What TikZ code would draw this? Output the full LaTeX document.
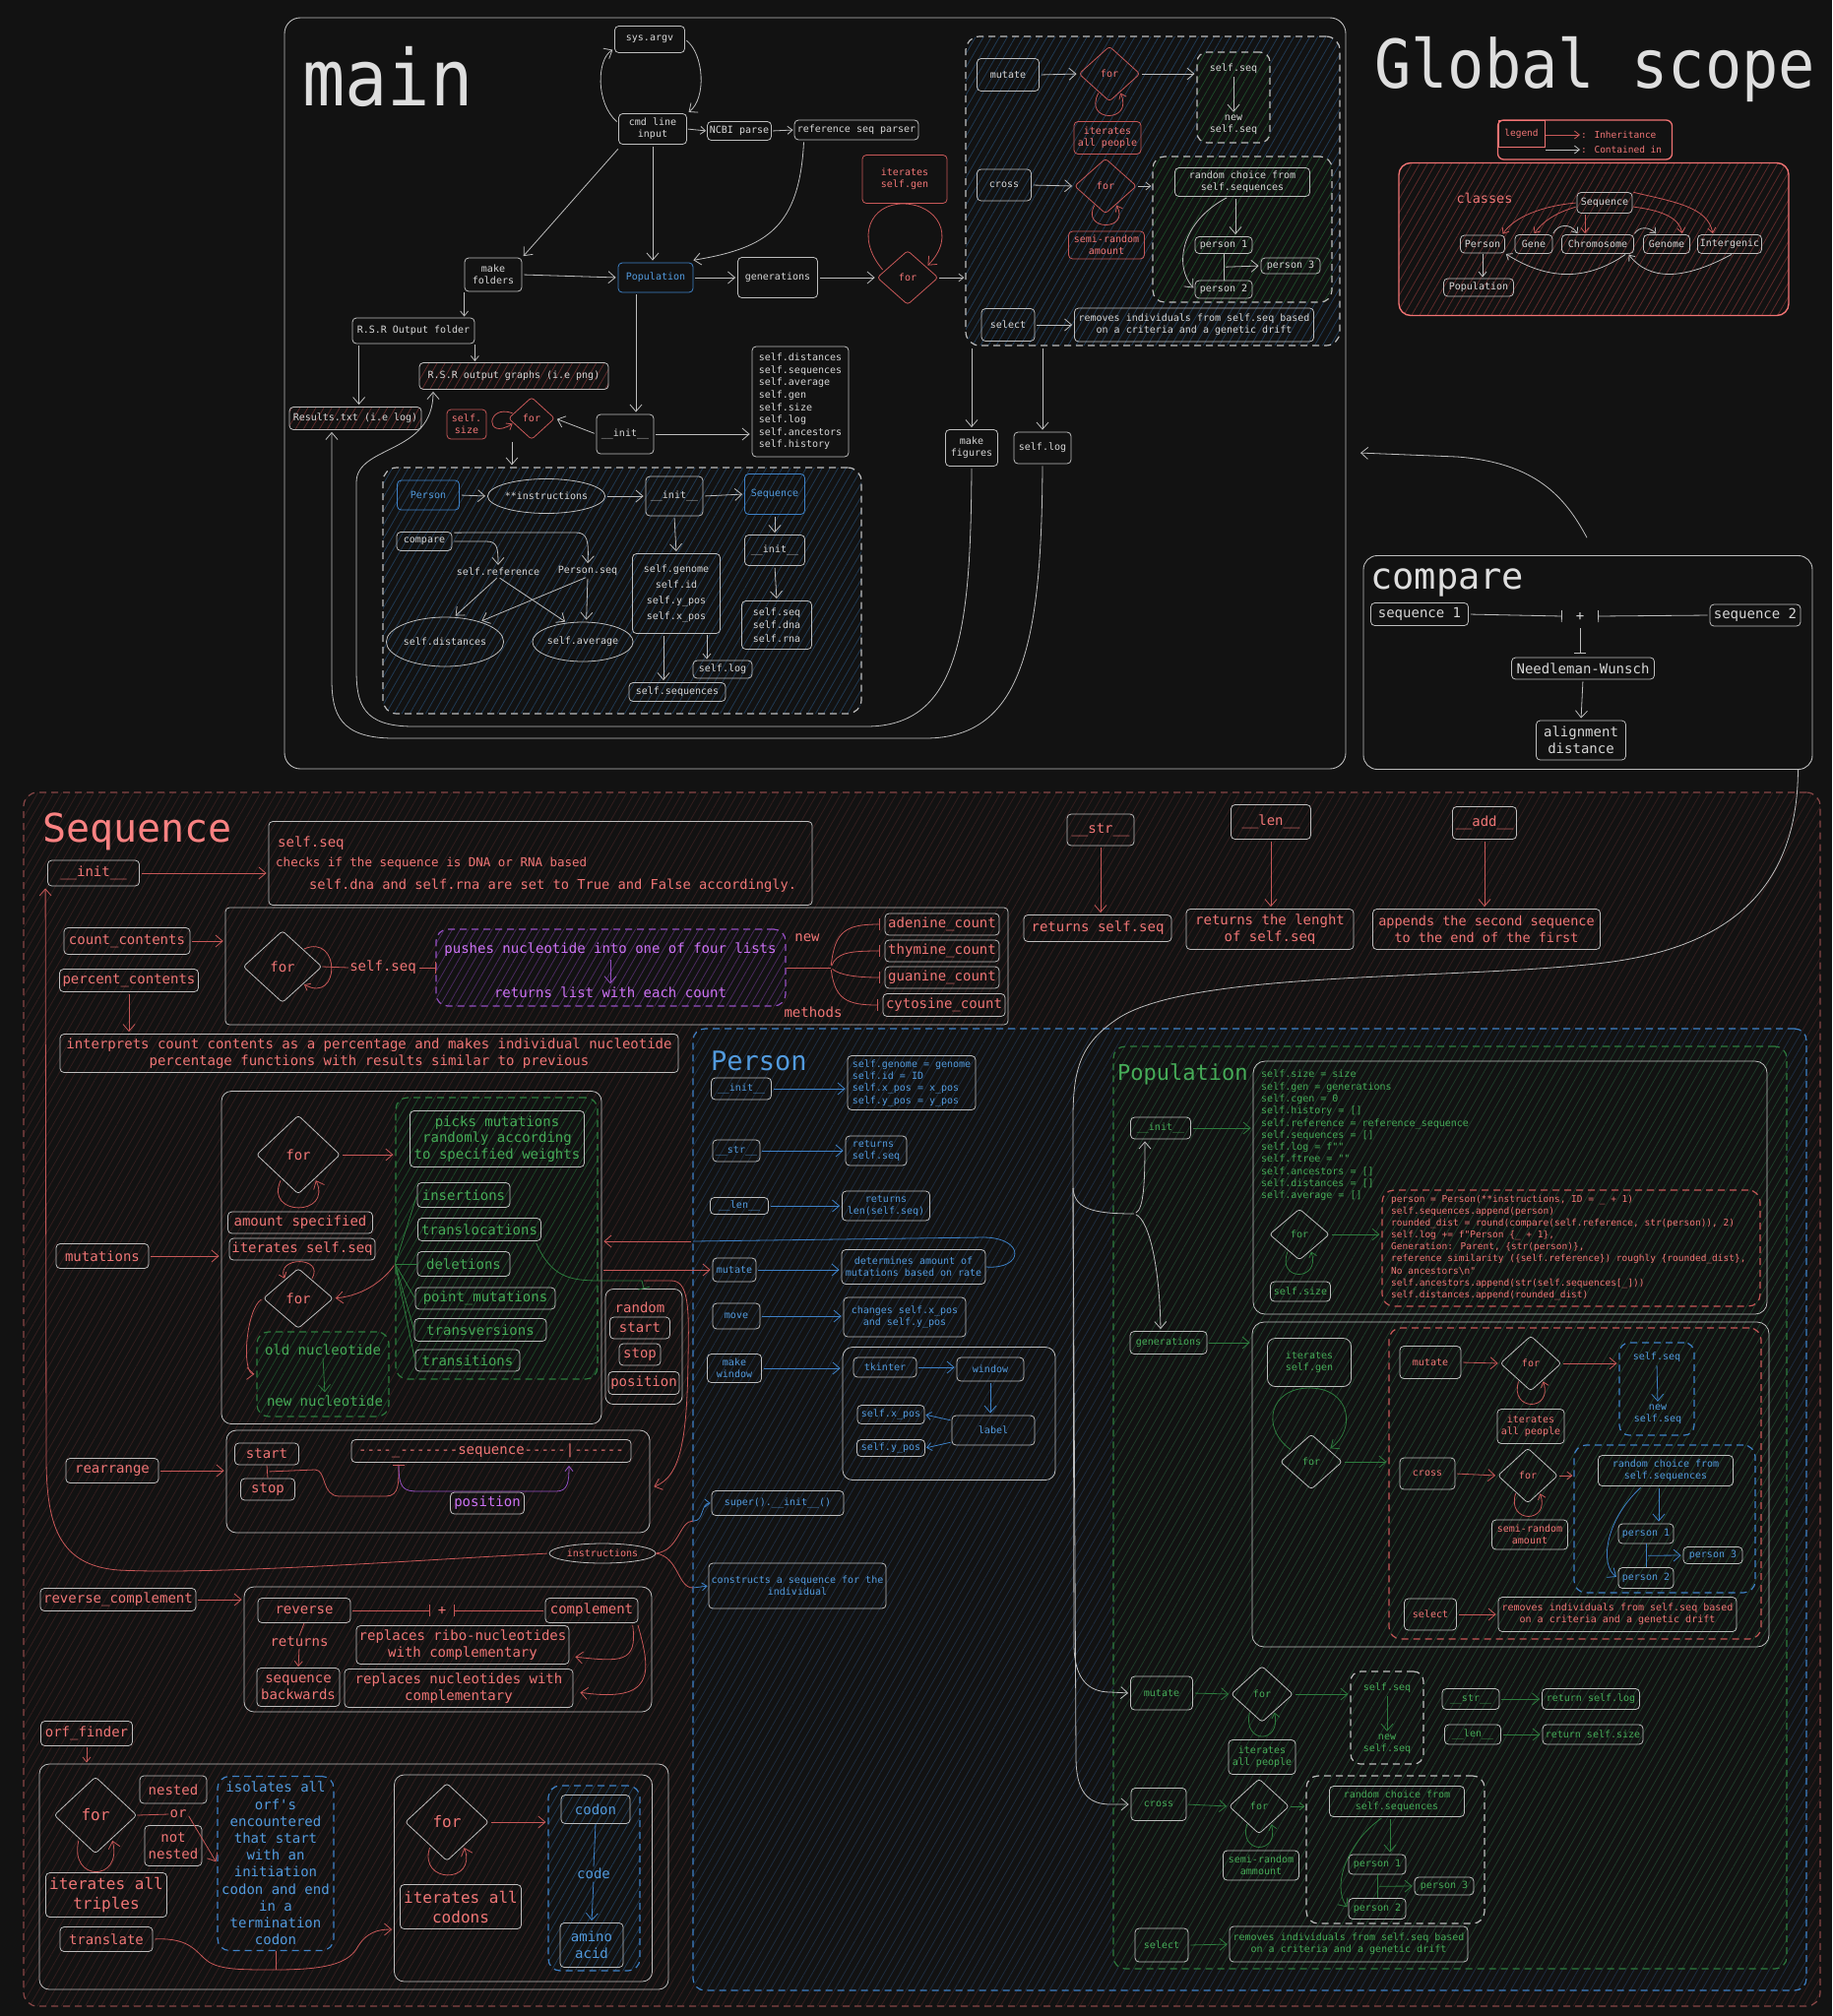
\documentclass[tikz,border=0pt]{standalone}
\usepackage{fontspec}
\setmainfont[Ligatures=TeXOff]{DejaVu Sans Mono}
\usetikzlibrary{shapes.geometric,arrows.meta,patterns.meta,calc}
\definecolor{cBg}{RGB}{18,18,18}
\definecolor{cW}{RGB}{190,190,190}
\definecolor{cWt}{RGB}{215,215,215}
\definecolor{cTi}{RGB}{222,222,222}
\definecolor{cR}{RGB}{200,88,88}
\definecolor{cRt}{RGB}{240,118,118}
\definecolor{cSal}{RGB}{250,130,130}
\definecolor{cLeg}{RGB}{240,115,115}
\definecolor{cB}{RGB}{62,130,200}
\definecolor{cBt}{RGB}{82,155,222}
\definecolor{cG}{RGB}{45,125,62}
\definecolor{cGt}{RGB}{70,172,88}
\definecolor{cP}{RGB}{150,80,195}
\definecolor{cPt}{RGB}{205,115,245}
\definecolor{cRd}{RGB}{135,70,70}
\definecolor{hB}{RGB}{32,58,84}
\definecolor{hG}{RGB}{28,72,40}
\definecolor{hR}{RGB}{52,30,30}
\definecolor{hRc}{RGB}{95,42,42}
\definecolor{hP}{RGB}{75,42,95}
\definecolor{hPer}{RGB}{30,46,66}
\definecolor{hPop}{RGB}{30,62,42}
\tikzset{
  wh/.style 2 args={minimum width=#1,minimum height=#2},
  t9/.style={font=\fontsize{9.5}{12.1}\selectfont},
  t10/.style={font=\fontsize{10}{12.3}\selectfont},
  t13/.style={font=\fontsize{13.5}{16.5}\selectfont},
  t14/.style={font=\fontsize{14}{16.8}\selectfont},
  t16/.style={font=\fontsize{16}{20}\selectfont},
  tW/.style={text=cWt}, tR/.style={text=cRt}, tB/.style={text=cBt}, tG/.style={text=cGt}, tP/.style={text=cPt},
  wbox/.style={draw=cW, line width=0.8pt, rounded corners=4pt, align=center, inner sep=1pt, text=cWt},
  rbox/.style={wbox, draw=cR, text=cRt},
  bbox/.style={wbox, draw=cB, text=cBt},
  dia/.style={draw=cW, diamond, line width=0.8pt, inner sep=0pt, rounded corners=3pt, text=cWt},
  rdia/.style={dia, draw=cR, text=cRt},
  ell/.style={draw=cW, ellipse, line width=0.8pt, inner sep=0pt, text=cWt},
  lbl/.style={inner sep=1pt, align=center},
  reg/.style={line width=1.2pt, dash pattern=on 7pt off 5pt, rounded corners=12pt},
  hatch/.style={pattern={Lines[angle=60,distance=7pt,line width=0.8pt]}, pattern color=#1},
  lw/.style={draw=cW, line width=0.8pt},
  lr/.style={draw=cR, line width=0.8pt},
  lb/.style={draw=cB, line width=0.8pt},
  lg/.style={draw=cG, line width=0.8pt},
  lp/.style={draw=cP, line width=0.8pt},
  ar/.style={-{Straight Barb[length=7pt,width=12pt]}, shorten >=2pt, shorten <=2pt},
  ars/.style={-{Straight Barb[length=5pt,width=8pt]}, shorten >=1pt, shorten <=1pt},
  br/.style={-{Bar[width=12pt]}, shorten <=2pt},
}
\begin{document}
\begin{tikzpicture}[x=1pt,y=-1pt]
\useasboundingbox (0,0) rectangle (1861,2048);
\fill[cBg] (0,0) rectangle (1861,2048);

%% ================= MAIN =================
\node[draw=cW, line width=0.9pt, rounded corners=16pt, wh={1078}{763}] (mainb) at (828,399.5) {};
\node[anchor=base west, inner sep=0pt, text=cTi, font=\fontsize{72}{72}\selectfont] (maint) at (307,107) {\scalebox{1}[1.1]{main}};

\node[wbox,t10,wh={71}{27}] (argv) at (660,40) {sys.argv};
\node[wbox,t10,wh={69}{31}] (cmd) at (663,131) {cmd line\\input};
\node[wbox,t10,wh={65}{19}] (ncbi) at (751,133) {NCBI parse};
\node[wbox,t10,wh={126}{20}] (refp) at (870,132) {reference seq parser};
\node[rbox,t10,wh={86}{49}] (itgen) at (919,182) {iterates\\self.gen};
\node[wbox,t10,wh={58}{34}] (mkf) at (501,279) {make\\folders};
\node[bbox,t10,wh={76}{30}] (popm) at (666,282) {Population};
\node[wbox,t10,wh={81}{41}] (gens) at (790,282) {generations};
\node[rdia,t10,wh={62}{55}] (form) at (922,282) {for};
\node[wbox,t10,wh={124}{26}] (rsrf) at (420,336) {R.S.R Output folder};
\node[wbox,t10,wh={192}{27},hatch=hRc] (rsrg) at (522,382) {R.S.R output graphs (i.e png)};
\node[wbox,t10,wh={134}{23},hatch=hRc] (res) at (361,425) {Results.txt (i.e log)};
\node[rbox,t10,wh={40}{30}] (ssize) at (474,431) {self.\\size};
\node[rdia,t10,wh={47}{43}] (fors) at (540,425) {for};
\node[wbox,t10,wh={58}{40}] (initm) at (635,441) {\_\_init\_\_};
\node[wbox,font=\fontsize{10}{12.6}\selectfont,wh={98}{112},align=left] (slist) at (813,408) {self.distances\\self.sequences\\self.average\\self.gen\\self.size\\self.log\\self.ancestors\\self.history};
\node[wbox,t10,wh={53}{37}] (mkfig) at (987,455) {make\\figures};
\node[wbox,t10,wh={58}{32}] (slog) at (1059,455) {self.log};

% mutate / cross / select area
\node[reg, draw=cW, hatch=hB, wh={380}{314}, rounded corners=14pt] (mbox) at (1171,194) {};
\node[wbox,t10,wh={63}{33}] (mmut) at (1024,76) {mutate};
\node[rdia,t10,wh={62}{56}] (mfor1) at (1127,75) {for};
\node[rbox,t10,wh={68}{33}] (mip) at (1125,140) {iterates\\all people};
\node[reg, draw=cW, preaction={fill=cBg}, hatch=hG, wh={74}{92}, rounded corners=10pt] (mseq) at (1253,99) {};
\node[lbl,tW,t10] (mseq1) at (1253,70) {self.seq};
\node[lbl,tW,t10] (mseq2) at (1253,127) {new\\self.seq};
\node[wbox,t10,wh={55}{32}] (mcross) at (1020,188) {cross};
\node[rdia,t10,wh={63}{56}] (mfor2) at (1123,189) {for};
\node[rbox,t10,wh={77}{28}] (msemi) at (1124,249) {semi-random\\amount};
\node[reg, draw=cW, preaction={fill=cBg}, hatch=hG, wh={182}{148}] (mrc) at (1262,233) {};
\node[wbox,t10,wh={137}{29}] (mrand) at (1262,185) {random choice from\\self.sequences};
\node[wbox,t10,wh={58}{17}] (mp1) at (1243,249) {person 1};
\node[wbox,t10,wh={60}{16}] (mp3) at (1311,270) {person 3};
\node[wbox,t10,wh={58}{18}] (mp2) at (1243,294) {person 2};
\node[wbox,t10,wh={54}{33}] (msel) at (1024,330) {select};
\node[wbox,t10,wh={243}{34}] (mrem) at (1213,330) {removes individuals from self.seq based\\on a criteria and a genetic drift};

% person box inside main
\node[reg, draw=cW, hatch=hB, wh={486}{250}, rounded corners=14pt] (pbox) at (632,600) {};
\node[bbox,t10,wh={63}{30}] (pperson) at (435,503) {Person};
\node[ell,t10,wh={100}{35}] (pinstr) at (555,504) {**instructions};
\node[wbox,t10,wh={58}{40}] (pinit1) at (685,504) {\_\_init\_\_};
\node[bbox,t10,wh={61}{41}] (pseq) at (787,502) {Sequence};
\node[wbox,t10,wh={56}{19}] (pcomp) at (431,550) {compare};
\node[lbl,tW,t10] (pref) at (506,581) {self.reference};
\node[lbl,tW,t10] (pps) at (597,580) {Person.seq};
\node[ell,t10,wh={117}{50}] (pdist) at (452,652) {self.distances};
\node[ell,t10,wh={92}{40}] (pavg) at (592,652) {self.average};
\node[wbox,font=\fontsize{10}{16}\selectfont,wh={89}{81}] (pgen) at (687,603) {self.genome\\self.id\\self.y\_pos\\self.x\_pos};
\node[wbox,t10,wh={61}{31}] (pinit2) at (787,559) {\_\_init\_\_};
\node[wbox,font=\fontsize{10}{13.5}\selectfont,wh={71}{49}] (psdr) at (789,635) {self.seq\\self.dna\\self.rna};
\node[wbox,t10,wh={60}{18}] (plog) at (734,680) {self.log};
\node[wbox,t10,wh={98}{19}] (pss) at (688,703) {self.sequences};

% main connectors
\draw[lw,ar] (cmd.170) .. controls (605,105) and (606,60) .. (argv.195);
\draw[lw,ar] (argv.east) .. controls (715,55) and (718,100) .. (cmd.north east);
\draw[lw,ars] (cmd.east) -- (ncbi.west);
\draw[lw,ars] (ncbi.east) -- (refp.west);
\draw[lw,ar] ([shift={(10,0)}]refp.south west) .. controls (812,230) and (780,252) .. ([shift={(-2,-2)}]popm.north east);
\draw[lw,ar] ([shift={(1,3)}]cmd.south west) -- (mkf.north east);
\draw[lw,ar] (cmd.south) -- (cmd.south |- popm.north);
\draw[lw,ar] (mkf.east) -- (popm.west);
\draw[lw,ar] (popm.east) -- (gens.west);
\draw[lw,ar] (gens.east) -- (form.west);
\draw[lw,ars] (form.east) -- (form.east -| mbox.west);
\draw[lr,ar] (form.165) .. controls (868,240) and (885,207) .. (917,207) .. controls (952,207) and (972,240) .. (form.30);
\draw[lw,ars] (mkf.south west) -- (mkf.south west |- rsrf.north);
\coordinate (crs1) at ([shift={(7,0)}]rsrf.south west);
\draw[lw,ar] (crs1) -- (crs1 |- res.north);
\draw[lw,ars] (rsrf.south east) -- (rsrf.south east |- rsrg.north);
\coordinate (cpi) at ([shift={(-20,0)}]popm.south);
\draw[lw,ar] (cpi) -- (cpi |- initm.north);
\draw[lw,ar] (initm.west) -- (fors.east);
\draw[lw,ar] (initm.east) -- (initm.east -| slist.west);
\draw[lr,ars] (fors.165) .. controls (494,410) and (492,448) .. (fors.195);
\coordinate (cfp) at ([shift={(-20,0)}]fors.south);
\draw[lw,ar] (cfp) -- (cfp |- pbox.north);
\draw[lw,ar] (mbox.south -| mkfig.north) -- (mkfig.north);
\draw[lw,ar] (mbox.south -| slog.north) -- (slog.north);
\draw[lw,ar] (mkfig.south) .. controls (986,640) and (975,738) .. (880,738) -- (420,738) .. controls (368,738) and (362,715) .. (362,680) -- (362,490) .. controls (362,452) and (440,462) .. ([shift={(-82,0)}]rsrg.south);
\draw[lw,ar] (slog.south) .. controls (1058,650) and (1040,750) .. (940,750) -- (400,750) .. controls (345,750) and (337,725) .. (337,690) -- ([shift={(-24,0)}]res.south);
% mbox connectors
\draw[lw,ar] (mmut.east) -- (mfor1.west);
\draw[lw,ar] (mfor1.east) -- (mfor1.east -| mseq.west);
\draw[lr,ars] (mfor1.240) .. controls (1100,125) and (1152,125) .. (mfor1.300);
\draw[lw,ar] (mseq1.south) -- (mseq2.north);
\draw[lw,ar] (mcross.east) -- (mfor2.west);
\draw[lw,ars] (mfor2.east) -- (mfor2.east -| mrc.west);
\draw[lr,ars] (mfor2.240) .. controls (1098,235) and (1148,235) .. (mfor2.300);
\coordinate (cmr) at ([shift={(-7,0)}]mrand.south);
\draw[lw,ar] (cmr) -- (cmr |- mp1.north);
\draw[lw,ar] ([shift={(-14,0)}]mrand.south) .. controls (1200,225) and (1192,270) .. (mp2.west);
\draw[lw] (mp1.south) -- (mp2.north);
\draw[lw,ar] ($(mp1.south)!0.5!(mp2.north)$) -- (mp3.west);
\draw[lw,ar] (msel.east) -- (mrem.west);
% person box connectors
\draw[lw,ar] (pperson.east) -- (pinstr.west);
\draw[lw,ar] (pinstr.east) -- (pinit1.west);
\draw[lw,ar] (pinit1.east) -- (pseq.west);
\draw[lw,ar] (pcomp.east) -- (494,550) .. controls (505,550) and (506,556) .. (pref.north);
\draw[lw,ar] ([shift={(0,1)}]pcomp.north east) -- (585,541) .. controls (597,541) and (598,550) .. (pps.north);
\draw[lw,ar] (pref.south) -- (pdist.70);
\draw[lw,ar] (pref.south) -- (pavg.130);
\draw[lw,ar] (pps.south) -- (pdist.30);
\draw[lw,ar] (pps.south) -- (pavg.80);
\draw[lw,ar] (pinit1.south) -- (pgen.north);
\coordinate (cpg) at ([shift={(-13,0)}]pgen.south);
\draw[lw,ar] (cpg) -- (cpg |- pss.north);
\coordinate (cpl) at ([shift={(31,0)}]pgen.south);
\draw[lw,ars] (cpl) -- (cpl |- plog.north);
\draw[lw,ar] (pseq.south) -- (pinit2.north);
\draw[lw,ar] (pinit2.south) -- (psdr.north);

%% ================= GLOBAL SCOPE =================
\node[anchor=base west, inner sep=0pt, text=cTi, font=\fontsize{62}{62}\selectfont] (gst) at (1396,89) {\scalebox{1}[1.1]{Global scope}};
\node[draw=cLeg, line width=1.3pt, rounded corners=6pt, wh={177}{40}] (legb) at (1610,142) {};
\node[draw=cLeg, line width=0.8pt, tR, t9, wh={47}{27}, inner sep=0pt] (legl) at (1545.5,135.5) {legend};
\node[anchor=west, tR, t9, inner sep=0pt] (legi) at (1606,137) {: Inheritance};
\node[anchor=west, tR, t9, inner sep=0pt] (legc) at (1606,152) {: Contained in};
\draw[lr,ars] (legl.east |- legi.west) -- (legi.west);
\draw[lw,ars] (legl.east |- legc.west) -- (legc.west);

\node[draw=cLeg, line width=1.4pt, rounded corners=12pt, hatch=hRc, wh={396}{155}] (clsb) at (1619,243) {};
\node[lbl, tR, t13] (clt) at (1508,201) {classes};
\node[wbox,t10,wh={56}{21}] (cseq) at (1630,206) {Sequence};
\node[wbox,t10,wh={45}{18}] (cper) at (1506,248) {Person};
\node[wbox,t10,wh={38}{19}] (cgene) at (1558,248) {Gene};
\node[wbox,t10,wh={73}{19}] (cchr) at (1623,248) {Chromosome};
\node[wbox,t10,wh={47}{19}] (cgnm) at (1693,248) {Genome};
\node[wbox,t10,wh={65}{19}] (cint) at (1757,248) {Intergenic};
\node[wbox,t10,wh={71}{18}] (cpop) at (1502,292) {Population};
\draw[lr,ars] (cseq.west) .. controls (1568,209) and (1538,220) .. ([shift={(20,0)}]cper.north);
\draw[lr,ars] ([shift={(0,4)}]cseq.west) .. controls (1580,216) and (1566,226) .. (cgene.north);
\draw[lr,ars] ([shift={(-20,0)}]cseq.south) -- ([shift={(-13,0)}]cchr.north);
\draw[lr,ars] ([shift={(0,4)}]cseq.east) .. controls (1690,214) and (1706,222) .. ([shift={(16,0)}]cgnm.north);
\draw[lr,ars] (cseq.north east) .. controls (1700,205) and (1735,210) .. ([shift={(-17,0)}]cint.north);
\draw[lw,ars] (cgene.north east) .. controls (1582,228) and (1595,226) .. ([shift={(-20,0)}]cchr.north);
\draw[lw,ars] (cchr.north east) .. controls (1665,230) and (1675,230) .. ([shift={(-10,0)}]cgnm.north);
\draw[lw,ars] (cper.south) -- (cper.south |- cpop.north);
\draw[lw,ars] ([shift={(-8,0)}]cchr.south east) .. controls (1620,280) and (1580,290) .. (cper.south east);
\draw[lw,ars] ([shift={(-30,0)}]cint.south east) .. controls (1710,285) and (1675,285) .. ([shift={(-6,0)}]cchr.south east);

%% ================= COMPARE =================
\node[draw=cW, line width=0.9pt, rounded corners=14pt, wh={456}{217}] (compb) at (1613,673) {};
\node[anchor=base west, inner sep=0pt, text=cTi, font=\fontsize{37}{37}\selectfont] (compt) at (1392,598) {compare};
\node[wbox,t14,wh={99}{23}] (seq1) at (1442,624) {sequence 1};
\node[lbl,tW,t14,wh={36}{20}] (cplus) at (1605,626) {+};
\node[wbox,t14,wh={92}{22}] (seq2) at (1783,625) {sequence 2};
\node[wbox,t14,wh={145}{22}] (nw) at (1608,679) {Needleman-Wunsch};
\node[wbox,t14,wh={91}{40}] (ad) at (1606,752) {alignment\\distance};
\draw[lw,br] (seq1.east) -- (cplus.west);
\draw[lw,br] (seq2.west) -- (cplus.east);
\draw[lw,br,shorten >=4pt] (cplus.south) -- (cplus.south |- nw.north);
\draw[lw,ar] (nw.south) -- (ad.north);
\coordinate (cgs) at (1380,460);
\draw[lw,ar] ([shift={(0,-16)}]compb.north) .. controls (1590,505) and (1560,470) .. (1480,464) -- (cgs);

%% ================= SEQUENCE REGION =================
\node[reg, draw=cRd, hatch=hR, wh={1825}{1233}, rounded corners=14pt] (seqb) at (936.5,1421.5) {};
\node[reg, draw=cB, preaction={fill=cBg}, hatch=hPer, wh={1131}{977}] (perb) at (1269.5,1533.5) {};
\node[reg, draw=cG, preaction={fill=cBg}, hatch=hPop, wh={684}{937}] (popb) at (1473,1531.5) {};
\node[anchor=base west, inner sep=0pt, text=cSal, font=\fontsize{40}{40}\selectfont] (seqt) at (43,855) {Sequence};

\node[wbox,tR,t14,wh={93}{26}] (sinit) at (95,887) {\_\_init\_\_};
\node[wbox,wh={552}{85}] (sinfo) at (549,877) {};
\node[tR,t14,anchor=west,inner sep=0pt] (si1) at (282,857) {self.seq};
\node[tR,font=\fontsize{12.5}{15}\selectfont,anchor=west,inner sep=0pt] (si2) at (280,877) {checks if the sequence is DNA or RNA based};
\node[tR,font=\fontsize{13.7}{16}\selectfont,anchor=west,inner sep=0pt] (si3) at (314,900) {self.dna and self.rna are set to True and False accordingly.};

\node[wbox,tR,t14,wh={128}{27}] (scount) at (129,956) {count\_contents};
\node[wbox,tR,t14,wh={141}{23}] (sperc) at (131,996) {percent\_contents};
\node[wbox,wh={795}{119}] (scbox) at (626.5,981.5) {};
\node[dia,tR,t14,wh={80}{73}] (sfor) at (287,982) {for};
\node[lbl,tR,t14] (sseql) at (389,983) {self.seq};
\node[reg, draw=cP, preaction={fill=cBg}, hatch=hP, wh={355}{78}] (spush) at (620.5,983) {};
\node[lbl,tP,t14] (spush1) at (620,965) {pushes nucleotide into one of four lists};
\node[lbl,tP,t14] (spush2) at (620,1008) {returns list with each count};
\node[lbl,tR,t14] (snew) at (820,953) {new};
\node[lbl,tR,t14] (smeth) at (826,1028) {methods};
\node[wbox,tR,t14,wh={116}{22}] (sade) at (957,939) {adenine\_count};
\node[wbox,tR,t14,wh={116}{22}] (sthy) at (957,966) {thymine\_count};
\node[wbox,tR,t14,wh={116}{22}] (sgua) at (957,993) {guanine\_count};
\node[wbox,tR,t14,wh={124}{23}] (scyt) at (959,1021) {cytosine\_count};
\node[wbox,tR,t14,wh={628}{39}] (sint) at (375,1070) {interprets count contents as a percentage and makes individual nucleotide\\percentage functions with results similar to previous};

\node[wbox,tR,t14,wh={68}{32}] (sstr) at (1118,843) {\_\_str\_\_};
\node[wbox,tR,t14,wh={150}{27}] (sretseq) at (1115,943) {returns self.seq};
\node[wbox,tR,t14,wh={81}{35}] (slen) at (1291,835) {\_\_len\_\_};
\node[wbox,tR,t14,wh={170}{41}] (sretlen) at (1290,944) {returns the lenght\\of self.seq};
\node[wbox,tR,t14,wh={65}{33}] (sadd) at (1508,836) {\_\_add\_\_};
\node[wbox,tR,t13,wh={231}{41}] (sapp) at (1510,944) {appends the second sequence\\to the end of the first};

% mutations
\node[wbox,tR,t14,wh={94}{25}] (smut) at (104,1276) {mutations};
\node[wbox,wh={386}{338}, rounded corners=10pt] (smbox) at (418,1277.5) {};
\node[dia,tR,t14,wh={85}{80}] (smfor1) at (303,1173) {for};
\node[wbox,tR,t14,wh={147}{22}] (samt) at (305,1242) {amount specified};
\node[wbox,tR,t14,wh={148}{22}] (sits) at (307,1269) {iterates self.seq};
\node[dia,tR,t14,wh={71}{61}] (smfor2) at (303,1319) {for};
\node[reg, draw=cG, preaction={fill=cBg}, hatch=hG, wh={205}{286}] (sgreen) at (504.5,1258) {};
\node[wbox,tG,t14,wh={177}{57}] (spick) at (505,1157) {picks mutations\\randomly according\\to specified weights};
\node[wbox,tG,t14,wh={94}{25}] (sins) at (471,1214) {insertions};
\node[wbox,tG,t14,wh={125}{23}] (strl) at (487,1249) {translocations};
\node[wbox,tG,t14,wh={94}{25}] (sdel) at (471,1284) {deletions};
\node[wbox,tG,t14,wh={142}{22}] (spm) at (493,1319) {point\_mutations};
\node[wbox,tG,t14,wh={134}{23}] (stv) at (488,1351) {transversions};
\node[wbox,tG,t14,wh={106}{22}] (sts) at (475,1382) {transitions};
\node[reg, draw=cG, preaction={fill=cBg}, hatch=hG, wh={134}{86}] (snuc) at (328,1396) {};
\node[lbl,tG,t14] (sold) at (328,1371) {old nucleotide};
\node[lbl,tG,t14] (snewn) at (330,1423) {new nucleotide};
\node[wbox,wh={78}{117}, rounded corners=8pt] (srand) at (654,1368) {};
\node[lbl,tR,t14] (srandt) at (650,1328) {random};
\node[wbox,tR,t14,wh={61}{22}] (sstart) at (650,1349) {start};
\node[wbox,tR,t14,wh={42}{22}] (sstop) at (650,1376) {stop};
\node[wbox,tR,t14,wh={72}{23}] (spos) at (654,1405) {position};

% rearrange
\node[wbox,tR,t14,wh={94}{25}] (srear) at (114,1494) {rearrange};
\node[wbox,wh={430}{104}, rounded corners=10pt] (srbox) at (445,1505) {};
\node[wbox,tR,t14,wh={65}{22}] (srstart) at (271,1477) {start};
\node[wbox,tR,t14,wh={55}{22}] (srstop) at (272,1513) {stop};
\node[wbox,tR,t14,wh={284}{23}] (srseq) at (499,1474) {----\_-------sequence-----|------};
\node[wbox,tP,t14,wh={75}{22}] (srpos) at (495,1527) {position};

% reverse complement
\node[wbox,tR,t14,wh={158}{23}] (srevc) at (120,1625) {reverse\_complement};
\node[wbox,wh={414}{127}, rounded corners=10pt] (srcbox) at (455,1675.5) {};
\node[wbox,tR,t14,wh={94}{25}] (srev) at (309,1636) {reverse};
\node[wbox,tR,t14,wh={94}{25}] (scomp) at (601,1636) {complement};
\node[lbl,tR,t14,wh={24}{20}] (srcplus) at (449,1636) {+};
\node[lbl,tR,t14] (sret) at (304,1668) {returns};
\node[wbox,tR,t14,wh={84}{39}] (sback) at (303,1714) {sequence\\backwards};
\node[wbox,tR,t14,wh={216}{39}] (sribo) at (470,1671) {replaces ribo-nucleotides\\with complementary};
\node[wbox,tR,t14,wh={232}{39}] (snucl) at (466,1715) {replaces nucleotides with\\complementary};

% orf finder
\node[wbox,tR,t14,wh={93}{25}] (sorf) at (88,1761) {orf\_finder};
\node[wbox,wh={639}{229}, rounded corners=10pt] (sobox) at (359.5,1906.5) {};
\node[dia,tR,t16,wh={84}{78}] (sofor) at (97,1844) {for};
\node[wbox,tR,t16,wh={123}{45}] (sotri) at (108,1925) {iterates all\\triples};
\node[wbox,tR,t14,wh={68}{28}] (sonest) at (176,1818) {nested};
\node[wbox,tR,t14,wh={58}{41}] (sonn) at (176,1875) {not\\nested};
\node[lbl,tR,t14] (sor) at (181,1843) {or};
\node[reg, draw=cB, wh={118}{177}, tB, font=\fontsize{14}{17.2}\selectfont, align=center, inner sep=0pt] (soiso) at (280,1893) {isolates all\\orf's\\encountered\\that start\\with an\\initiation\\codon and end\\in a\\termination\\codon};
\node[wbox,tR,t14,wh={94}{25}] (sotr) at (108,1970) {translate};
\node[wbox,wh={262}{210}, rounded corners=10pt] (soin) at (531.5,1908) {};
\node[dia,tR,t16,wh={85}{79}] (sofor2) at (454,1851) {for};
\node[wbox,tR,t16,wh={123}{45}] (socod) at (468,1937) {iterates all\\codons};
\node[reg, draw=cB, preaction={fill=cBg}, hatch=hB, wh={93}{188}] (socb) at (603.5,1908) {};
\node[wbox,tB,t14,wh={70}{29}] (socodon) at (605,1838) {codon};
\node[lbl,tB,t14] (socode) at (603,1903) {code};
\node[wbox,tB,t14,wh={64}{45}] (soam) at (601,1976) {amino\\acid};

\node[ell,tR,t10,wh={108}{20}] (sinstr) at (612,1578) {instructions};

%% ================= PERSON REGION =================
\node[anchor=base west, inner sep=0pt, text=cBt, font=\fontsize{27}{27}\selectfont] (pert) at (722,1087) {Person};
\node[wbox,tB,t10,wh={61}{22}] (pinit) at (753,1106) {\_\_init\_\_};
\node[wbox,tB,t10,wh={130}{55},align=left] (pgenome) at (926,1100) {self.genome = genome\\self.id = ID\\self.x\_pos = x\_pos\\self.y\_pos = y\_pos};
\node[wbox,tB,t10,wh={48}{22}] (pstr) at (748,1169) {\_\_str\_\_};
\node[wbox,tB,t10,wh={62}{30},align=left] (pretseq) at (890,1169) {returns\\self.seq};
\node[wbox,tB,t10,wh={59}{17}] (plen) at (751,1225) {\_\_len\_\_};
\node[wbox,tB,t10,wh={89}{30}] (pretlen) at (900,1225) {returns\\len(self.seq)};
\node[wbox,tB,t10,wh={44}{24}] (pmut) at (746,1290) {mutate};
\node[wbox,tB,t10,wh={146}{35}] (pdet) at (928,1287) {determines amount of\\mutations based on rate};
\node[wbox,tB,t10,wh={48}{26}] (pmove) at (748,1337) {move};
\node[wbox,tB,t10,wh={124}{40}] (pchg) at (919,1338) {changes self.x\_pos\\and self.y\_pos};
\node[wbox,tB,t10,wh={55}{29}] (pmw) at (746,1390) {make\\window};
\node[wbox,wh={216}{135}, rounded corners=10pt] (pwg) at (964,1436) {};
\node[wbox,tB,t10,wh={64}{20}] (ptk) at (899,1389) {tkinter};
\node[wbox,tB,t10,wh={68}{24}] (pwin) at (1006,1391) {window};
\node[wbox,tB,t10,wh={84}{30}] (plabel) at (1009,1453) {label};
\node[wbox,tB,t10,wh={68}{19}] (pxpos) at (905,1437) {self.x\_pos};
\node[wbox,tB,t10,wh={69}{17}] (pypos) at (905,1471) {self.y\_pos};
\node[wbox,tB,t10,wh={134}{25}] (psuper) at (790,1527) {super().\_\_init\_\_()};
\node[wbox,tB,t10,wh={180}{46}] (pcons) at (810,1611) {constructs a sequence for the\\individual};

%% ================= POPULATION REGION =================
\node[anchor=base west, inner sep=0pt, text=cGt, font=\fontsize{22}{22}\selectfont] (popt) at (1135,1097) {Population};
\node[wbox,tG,t10,wh={61}{22}] (popinit) at (1179,1146) {\_\_init\_\_};
\node[wbox,wh={522}{257}, rounded corners=12pt] (popib) at (1534,1206.5) {};
\node[anchor=north west, inner sep=0pt, tG, t10, align=left] (popvars) at (1281,1087) {self.size = size\\self.gen = generations\\self.cgen = 0\\self.history = []\\self.reference = reference\_sequence\\self.sequences = []\\self.log = f""\\self.ftree = ""\\self.ancestors = []\\self.distances = []\\self.average = []};
\node[dia,tG,t10,wh={61}{52}] (popfor) at (1320,1254) {for};
\node[wbox,tG,t10,wh={61}{20}] (popsize) at (1321,1312) {self.size};
\node[reg, draw=cR, wh={384}{118}] (popred) at (1596,1268) {};
\node[anchor=north west, inner sep=0pt, tR, t9, align=left] (popcode) at (1413,1214) {person = Person(**instructions, ID = \_ + 1)\\self.sequences.append(person)\\rounded\_dist = round(compare(self.reference, str(person)), 2)\\self.log += f"Person \{\_ + 1\},\\Generation: Parent, \{str(person)\},\\reference similarity (\{self.reference\}) roughly \{rounded\_dist\},\\No ancestors\textbackslash n"\\self.ancestors.append(str(self.sequences[\_]))\\self.distances.append(rounded\_dist)};

\node[wbox,tG,t10,wh={78}{23}] (popgen) at (1187,1364) {generations};
\node[wbox,wh={525}{330}, rounded corners=12pt] (popgb) at (1534.5,1508) {};
\node[wbox,tG,t10,wh={85}{49}, rounded corners=8pt] (popit) at (1330,1384) {iterates\\self.gen};
\node[dia,tG,t10,wh={63}{56}] (popgfor) at (1332,1485) {for};
\node[reg, draw=cR, wh={378}{316}] (popgr) at (1600,1507) {};
\node[wbox,tR,t10,wh={62}{33}] (pgmut) at (1453,1384) {mutate};
\node[dia,tR,t10,wh={62}{56}] (pgfor1) at (1555,1385) {for};
\node[wbox,tR,t10,wh={68}{35}] (pgip) at (1555,1449) {iterates\\all people};
\node[reg, draw=cB, wh={76}{94}, rounded corners=10pt] (pgseq) at (1683,1411) {};
\node[lbl,tB,t10] (pgseq1) at (1683,1379) {self.seq};
\node[lbl,tB,t10] (pgseq2) at (1684,1437) {new\\self.seq};
\node[wbox,tR,t10,wh={56}{32}] (pgcross) at (1450,1497) {cross};
\node[dia,tR,t10,wh={61}{56}] (pgfor2) at (1552,1499) {for};
\node[wbox,tR,t10,wh={77}{30}] (pgsemi) at (1554,1559) {semi-random\\amount};
\node[reg, draw=cB, wh={184}{150}] (pgrc) at (1691,1543) {};
\node[wbox,tB,t10,wh={137}{31}] (pgrand) at (1692,1494) {random choice from\\self.sequences};
\node[wbox,tB,t10,wh={56}{20}] (pgp1) at (1672,1558) {person 1};
\node[wbox,tB,t10,wh={60}{17}] (pgp3) at (1740,1580) {person 3};
\node[wbox,tB,t10,wh={56}{21}] (pgp2) at (1672,1603) {person 2};
\node[wbox,tR,t10,wh={53}{32}] (pgsel) at (1453,1640) {select};
\node[wbox,tR,t10,wh={242}{35}] (pgrem) at (1643,1640) {removes individuals from self.seq based\\on a criteria and a genetic drift};

\node[wbox,tG,t10,wh={63}{34}] (pbmut) at (1180,1720) {mutate};
\node[dia,tG,t10,wh={63}{57}] (pbfor1) at (1282,1721) {for};
\node[wbox,tG,t10,wh={68}{35}] (pbip) at (1282,1785) {iterates\\all people};
\node[reg, draw=cW, wh={74}{94}, rounded corners=10pt] (pbseq) at (1409,1745) {};
\node[lbl,tG,t10] (pbseq1) at (1409,1715) {self.seq};
\node[lbl,tG,t10] (pbseq2) at (1409,1772) {new\\self.seq};
\node[wbox,tG,t10,wh={58}{21}] (pbstr) at (1494,1726) {\_\_str\_\_};
\node[wbox,tG,t10,wh={99}{21}] (pbrl) at (1616,1726) {return self.log};
\node[wbox,tG,t10,wh={57}{20}] (pblen) at (1496,1762) {\_\_len\_\_};
\node[wbox,tG,t10,wh={102}{20}] (pbrs) at (1618,1762) {return self.size};
\node[wbox,tG,t10,wh={56}{33}] (pbcross) at (1177,1833) {cross};
\node[dia,tG,t10,wh={61}{56}] (pbfor2) at (1279,1835) {for};
\node[wbox,tG,t10,wh={77}{30}] (pbsemi) at (1281,1895) {semi-random\\ammount};
\node[reg, draw=cW, wh={181}{150}] (pbrc) at (1417.5,1879) {};
\node[wbox,tG,t10,wh={137}{31}] (pbrand) at (1419,1830) {random choice from\\self.sequences};
\node[wbox,tG,t10,wh={58}{20}] (pbp1) at (1399,1894) {person 1};
\node[wbox,tG,t10,wh={60}{18}] (pbp3) at (1467,1916) {person 3};
\node[wbox,tG,t10,wh={58}{21}] (pbp2) at (1399,1939) {person 2};
\node[wbox,tG,t10,wh={54}{34}] (pbsel) at (1180,1976) {select};
\node[wbox,tG,t10,wh={242}{36}] (pbrem) at (1370,1975) {removes individuals from self.seq based\\on a criteria and a genetic drift};

%% ================= SEQUENCE CONNECTORS =================
\draw[lr,ar] (sinit.east) -- (sinit.east -| sinfo.west);
\draw[lr,ar] (scount.east) -- (scount.east -| scbox.west);
\draw[lr,ar] (sperc.south) -- (sperc.south |- sint.north);
\draw[lr,ars] (sfor.40) .. controls (346,948) and (346,1020) .. (sfor.320);
\draw[lr] (sfor.east) -- (sseql.west);
\draw[lr,br] (sseql.east) -- (spush.west);
\draw[lp,ar] (spush1.south) -- (spush2.north);
\coordinate (cspj) at (844,983);
\draw[lr] (spush.east) -- (cspj);
\draw[lr,br,shorten >=5pt] (cspj) .. controls (848,945) and (860,939) .. (sade.west);
\draw[lr,br,shorten >=5pt] (cspj) .. controls (850,968) and (862,966) .. (sthy.west);
\draw[lr,br,shorten >=5pt] (cspj) .. controls (852,990) and (868,993) .. (sgua.west);
\draw[lr,br,shorten >=5pt] (cspj) .. controls (848,1015) and (860,1021) .. (scyt.west);
\draw[lr,ar] (sstr.south) -- (sstr.south |- sretseq.north);
\draw[lr,ar] (slen.south) -- (slen.south |- sretlen.north);
\draw[lr,ar] (sadd.south) -- (sadd.south |- sapp.north);

\draw[lr,ar] (smut.east) -- (smut.east -| smbox.west);
\draw[lr,ar] (smfor1.235) .. controls (268,1236) and (338,1236) .. (smfor1.305);
\draw[lr,ar] (smfor1.east) -- (smfor1.east -| sgreen.west);
\draw[lr,ars] (smfor2.55) .. controls (330,1276) and (280,1276) .. (smfor2.125);
\coordinate (cgj) at (sgreen.west |- sdel.west);
\draw[lr,ar] (cgj) .. controls (390,1300) and (370,1316) .. (smfor2.east);
\draw[lr,ar] (smfor2.west) .. controls (250,1330) and (245,1395) .. (snuc.west);
\draw[lg] (cgj) -- (sins.west);
\draw[lg] (cgj) -- (sdel.west);
\draw[lg] (cgj) -- (spm.west);
\draw[lg] (cgj) -- (stv.west);
\draw[lg] (cgj) -- (sts.west);
\draw[lg,ar] (sold.south) -- (snewn.north);
\coordinate (cjr) at (652,1301);
\draw[lg,br] ([shift={(-6,0)}]strl.south east) .. controls (560,1298) and (580,1301) .. (610,1301) -- (cjr) -- (srand.north);
\draw[lr,ar] (cjr) -- (682,1301) .. controls (700,1301) and (700,1330) .. (699,1380) .. controls (698,1460) and (692,1500) .. ([shift={(2,6)}]srbox.east);
\coordinate (cpj) at (704,1261);
\draw[lb] (pdet.east) .. controls (1040,1290) and (1042,1258) .. (1000,1257) -- (cpj);
\draw[lr,ar] (cpj) -- (cpj -| smbox.east);
\draw[lr,ar] (smbox.east |- pmut.west) -- (pmut.west);

\draw[lr,ar] (srear.east) -- (srear.east -| srbox.west);
\draw[lr] (srstart.south) -- (srstop.north);
\coordinate (csr1) at ($(srstart.south)!0.5!(srstop.north)$);
\coordinate (csrU) at ([shift={(-94,2)}]srseq.south);
\coordinate (csrB) at ([shift={(79,2)}]srseq.south);
\draw[lr,br] (csr1) -- (320,1493) .. controls (332,1493) and (326,1520) .. (345,1520) -- (392,1520) .. controls (406,1520) and (405,1505) .. (csrU);
\draw[lp,ars] (csrU) .. controls (405,1512) and (410,1515) .. (425,1515) -- (565,1515) .. controls (577,1515) and (578,1505) .. (csrB);

\draw[lr,ar] (srevc.east) -- (srevc.east -| srcbox.west);
\draw[lr,br] (srev.east) -- (srcplus.west);
\draw[lr,br] (scomp.west) -- (srcplus.east);
\draw[lr] (srev.south) -- (sret.north);
\draw[lr,ars] (sret.south) -- (sback.north);
\draw[lr,ar] ([shift={(-6,0)}]scomp.south east) .. controls (648,1690) and (630,1688) .. ([shift={(4,12)}]sribo.east);
\draw[lr,ar] ([shift={(-1,0)}]scomp.south east) .. controls (662,1700) and (665,1730) .. ([shift={(5,4)}]snucl.east);

\draw[lr,ars] (sorf.south) -- (sorf.south |- sobox.north);
\draw[lr,ar] (sofor.235) .. controls (70,1912) and (125,1912) .. (sofor.305);
\draw[lr] (sofor.east) -- (sor.west);
\draw[lr,ar] (sor.east) -- (soiso.west);
\coordinate (c2001) at (0,2001);
\coordinate (c1960) at (0,1960);
\draw[lr,ar] (sotr.east) .. controls (195,1968) and (200,1985) .. (212,1993) .. controls (225,2001) and (245,2001) .. (279,2001) .. controls (330,2001) and (352,1995) .. (362,1980) .. controls (372,1962) and (385,1960) .. (soin.west |- c1960);
\draw[lr] (soiso.south) -- (soiso.south |- c2001);
\draw[lr,ar] (sofor2.235) .. controls (425,1914) and (485,1914) .. (sofor2.305);
\draw[lr,ar] (sofor2.east) -- (sofor2.east -| socb.west);
\draw[lb] (socodon.south) -- (socode.north);
\draw[lb,ar] (socode.south) -- (soam.north);

\draw[lr,ar] (sinstr.west) .. controls (420,1585) and (220,1600) .. (120,1595) .. controls (60,1590) and (47,1550) .. (47,1480) -- ([shift={(-2,0)}]sinit.south west);
\coordinate (cj2) at (704,1545);
\coordinate (cj3) at (704,1613);
\draw[lr] (sinstr.east) .. controls (690,1575) and (690,1545) .. (cj2);
\draw[lb,ars] (cj2) .. controls (715,1545) and (712,1527) .. (psuper.west);
\draw[lr] (sinstr.east) .. controls (690,1582) and (688,1613) .. (cj3);
\draw[lb,ars] (cj3) -- (pcons.west);

%% Person connectors
\draw[lb,ar] (pinit.east) -- (pinit.east -| pgenome.west);
\draw[lb,ar] (pstr.east) -- (pretseq.west);
\draw[lb,ar] (plen.east) -- (plen.east -| pretlen.west);
\draw[lb,ar] (pmut.east) -- (pmut.east -| pdet.west);
\draw[lb,ar] (pmove.east) -- (pmove.east -| pchg.west);
\draw[lb,ar] (pmw.east) -- (pmw.east -| pwg.west);
\draw[lb,ar] (ptk.east) -- (ptk.east -| pwin.west);
\draw[lb,ar] (pwin.south) -- (pwin.south |- plabel.north);
\draw[lb,ars] ([shift={(0,-10)}]plabel.west) -- (pxpos.east);
\draw[lb,ars] ([shift={(0,12)}]plabel.west) -- (pypos.east);

%% Population connectors
\draw[lg,ar] (popinit.east) -- (popinit.east -| popib.west);
\draw[lg,ars] (popfor.235) .. controls (1296,1302) and (1342,1302) .. (popfor.305);
\draw[lg,ar] (popfor.east) -- (popfor.east -| popred.west);
\draw[lg,ar] (popgen.east) -- (popgen.east -| popgb.west);
\draw[lg,ar] (popgfor.150) .. controls (1280,1450) and (1290,1410) .. (1330,1410) .. controls (1372,1410) and (1378,1452) .. (popgfor.35);
\draw[lg,ar] (popgfor.east) -- (popgfor.east -| popgr.west);
\draw[lr,ar] (pgmut.east) -- (pgfor1.west);
\draw[lr,ar] (pgfor1.east) -- (pgfor1.east -| pgseq.west);
\draw[lr,ars] (pgfor1.235) .. controls (1533,1434) and (1578,1434) .. (pgfor1.305);
\draw[lb,ar] (pgseq1.south) -- (pgseq2.north);
\draw[lr,ar] (pgcross.east) -- (pgfor2.west);
\draw[lr,ars] (pgfor2.east) -- (pgfor2.east -| pgrc.west);
\draw[lr,ars] (pgfor2.235) .. controls (1530,1548) and (1575,1548) .. (pgfor2.305);
\coordinate (cpg1) at ([shift={(-7,0)}]pgrand.south);
\draw[lb,ar] (cpg1) -- (cpg1 |- pgp1.north);
\draw[lb,ar] ([shift={(-24,0)}]pgrand.south) .. controls (1630,1545) and (1625,1590) .. (pgp2.west);
\draw[lb] (pgp1.south) -- (pgp2.north);
\draw[lb,ar] ($(pgp1.south)!0.5!(pgp2.north)$) -- (pgp3.west);
\draw[lr,ar] (pgsel.east) -- (pgrem.west);

\draw[lg,ar] (pbmut.east) -- (pbfor1.west);
\draw[lg,ar] (pbfor1.east) -- (pbfor1.east -| pbseq.west);
\draw[lg,ars] (pbfor1.235) .. controls (1262,1772) and (1302,1772) .. (pbfor1.305);
\draw[lg,ar] (pbseq1.south) -- (pbseq2.north);
\draw[lg,ar] (pbstr.east) -- (pbrl.west);
\draw[lg,ar] (pblen.east) -- (pbrs.west);
\draw[lg,ar] (pbcross.east) -- (pbfor2.west);
\draw[lg,ars] (pbfor2.east) -- (pbfor2.east -| pbrc.west);
\draw[lg,ars] (pbfor2.235) .. controls (1258,1884) and (1300,1884) .. (pbfor2.305);
\coordinate (cpb1) at ([shift={(-7,0)}]pbrand.south);
\draw[lg,ar] (cpb1) -- (cpb1 |- pbp1.north);
\draw[lg,ar] ([shift={(-14,0)}]pbrand.south) .. controls (1370,1870) and (1352,1915) .. (pbp2.west);
\draw[lg] (pbp1.south) -- (pbp2.north);
\draw[lg,ar] ($(pbp1.south)!0.5!(pbp2.north)$) -- (pbp3.west);
\draw[lg,ar] (pbsel.east) -- (pbrem.west);

%% compare trunk
\coordinate (ctr0) at ([shift={(-15,0)}]compb.south east);
\coordinate (tA) at (1090,1205);
\coordinate (tB) at (1152,1233);
\draw[lw] (ctr0) .. controls (1826,900) and (1760,962) .. (1630,978) .. controls (1480,996) and (1210,985) .. (1135,1035) .. controls (1098,1060) and (1090,1085) .. (1090,1136) -- (tA);
\draw[lw] (tA) .. controls (1090,1228) and (1110,1233) .. (tB);
\draw[lw,ar] (tB) .. controls (1162,1228) and (1163,1200) .. ([shift={(-16,0)}]popinit.south);
\draw[lw,ar] (tB) .. controls (1168,1240) and (1178,1290) .. ([shift={(-8,0)}]popgen.north);
\draw[lw,ar] (tA) -- (1091,1670) .. controls (1091,1705) and (1105,1719) .. (1128,1719) -- (pbmut.west);
\draw[lw,ar] (tA) -- (1093,1785) .. controls (1093,1820) and (1105,1833) .. (1128,1833) -- (pbcross.west);
\end{tikzpicture}
\end{document}
